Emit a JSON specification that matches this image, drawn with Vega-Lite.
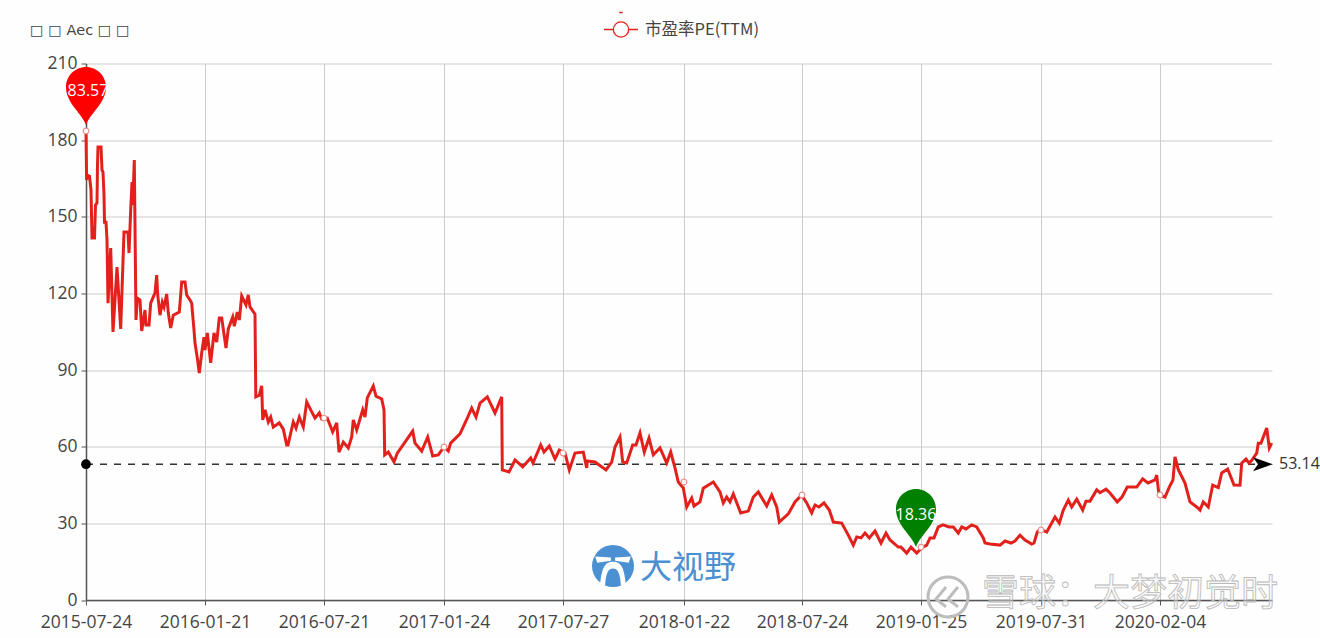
{
  "$schema": "https://vega.github.io/schema/vega-lite/v6.json",
  "width": 1186,
  "height": 536.5,
  "autosize": "none",
  "padding": {"left": 86, "top": 63.5, "right": 48, "bottom": 38},
  "background": "#fefefe",
  "title": {"text": "□ □ Aec □ □", "anchor": "start", "frame": "group", "dx": -56, "dy": 38, "offset": 11, "font": "DejaVu Sans", "fontSize": 14.5, "fontWeight": "normal", "color": "#444444"},
  "config": {"view": {"stroke": null}},
  "datasets": {
    "pe": [
      {"s":0,"pe":183.57},{"s":0.6,"pe":164.4},{"s":1.5,"pe":166.3},{"s":3.5,"pe":165.9},{"s":5,"pe":160.5},{"s":6,"pe":141.7},{"s":8.5,"pe":141.7},{"s":9.5,"pe":154.6},{"s":11,"pe":155.4},{"s":11.5,"pe":170.3},{"s":12,"pe":177.3},{"s":15,"pe":177.3},{"s":16,"pe":168.3},{"s":17,"pe":167.5},{"s":18,"pe":158.5},{"s":18.5,"pe":147.9},{"s":20,"pe":147.9},{"s":21,"pe":140.9},{"s":22,"pe":116.2},{"s":24.7,"pe":137.8},{"s":27,"pe":104.9},{"s":31,"pe":130.3},{"s":34.7,"pe":106.1},{"s":38,"pe":144},{"s":42,"pe":144},{"s":43,"pe":135.8},{"s":44.7,"pe":152.6},{"s":46,"pe":163.6},{"s":46.7,"pe":154.6},{"s":48.3,"pe":172.2},{"s":49,"pe":146.8},{"s":50,"pe":109.6},{"s":51.3,"pe":118.2},{"s":54,"pe":117.4},{"s":55.7,"pe":105.3},{"s":59,"pe":113.5},{"s":60,"pe":107.6},{"s":63,"pe":107.6},{"s":64.7,"pe":116.2},{"s":69,"pe":120.2},{"s":70.7,"pe":127.2},{"s":71.7,"pe":119.4},{"s":74,"pe":111.5},{"s":76.3,"pe":116.6},{"s":78,"pe":114.7},{"s":80.7,"pe":119.8},{"s":82.3,"pe":112.3},{"s":84.7,"pe":106.5},{"s":87.3,"pe":111.5},{"s":93.3,"pe":112.7},{"s":95.7,"pe":124.5},{"s":99,"pe":124.5},{"s":100.7,"pe":119.4},{"s":104,"pe":117.4},{"s":105.7,"pe":116.2},{"s":106.7,"pe":111.5},{"s":108,"pe":105.7},{"s":109,"pe":100.6},{"s":111.3,"pe":94.7},{"s":113.3,"pe":88.8},{"s":115.7,"pe":96.7},{"s":118,"pe":102.9},{"s":119,"pe":97.8},{"s":121.3,"pe":104.5},{"s":124.7,"pe":92.8},{"s":128,"pe":104.5},{"s":130.7,"pe":101},{"s":133.3,"pe":110.4},{"s":135.7,"pe":110.4},{"s":140,"pe":98.6},{"s":142.3,"pe":106.1},{"s":146.7,"pe":110.8},{"s":148.3,"pe":107.2},{"s":151.3,"pe":112.7},{"s":153.3,"pe":109.6},{"s":155.7,"pe":119},{"s":160,"pe":115.5},{"s":162.3,"pe":119.4},{"s":164,"pe":114.7},{"s":169,"pe":111.9},{"s":169.8,"pe":79.5},{"s":173.3,"pe":80.2},{"s":175.7,"pe":83.8},{"s":176.7,"pe":70.5},{"s":179,"pe":74.4},{"s":182.3,"pe":69.7},{"s":184.7,"pe":71.6},{"s":187.3,"pe":67.7},{"s":193.3,"pe":69.3},{"s":197.3,"pe":66.9},{"s":200.7,"pe":60.7},{"s":202,"pe":60.7},{"s":207.3,"pe":69.7},{"s":210,"pe":67.3},{"s":213.3,"pe":71.6},{"s":217.3,"pe":67.7},{"s":220.7,"pe":77.5},{"s":229,"pe":71.2},{"s":233.3,"pe":73.2},{"s":235.7,"pe":70.8},{"s":241.3,"pe":71.2},{"s":246.7,"pe":65.8},{"s":250.7,"pe":69.3},{"s":253,"pe":57.9},{"s":257.3,"pe":61.8},{"s":262.3,"pe":59.5},{"s":265.7,"pe":63.8},{"s":267.3,"pe":70.5},{"s":270.7,"pe":66.5},{"s":276.7,"pe":74.4},{"s":279,"pe":71.6},{"s":281.3,"pe":79.1},{"s":287.3,"pe":83.8},{"s":290,"pe":79.8},{"s":295.7,"pe":78.7},{"s":298,"pe":74.4},{"s":298.7,"pe":56.8},{"s":302.3,"pe":57.9},{"s":308,"pe":54},{"s":311.3,"pe":57.5},{"s":319,"pe":61.8},{"s":326.7,"pe":66.1},{"s":329,"pe":61.4},{"s":335.7,"pe":58.3},{"s":341.7,"pe":63.8},{"s":346.7,"pe":56.4},{"s":352.3,"pe":56.8},{"s":358,"pe":59.9},{"s":362.3,"pe":58.3},{"s":364.7,"pe":61.4},{"s":374,"pe":65},{"s":381.3,"pe":71.2},{"s":385.7,"pe":75.1},{"s":390,"pe":71.6},{"s":394,"pe":77.1},{"s":401.3,"pe":79.5},{"s":409,"pe":73.2},{"s":415.7,"pe":79.5},{"s":416.3,"pe":50.9},{"s":423,"pe":50.1},{"s":429,"pe":54.8},{"s":436.7,"pe":52.1},{"s":444.7,"pe":55.6},{"s":447,"pe":53.6},{"s":454.7,"pe":60.7},{"s":458,"pe":57.9},{"s":463.3,"pe":60.3},{"s":469,"pe":55.2},{"s":473.3,"pe":58.7},{"s":479,"pe":57.5},{"s":483.3,"pe":50.9},{"s":489,"pe":57.5},{"s":497.3,"pe":57.9},{"s":500.7,"pe":51.7},{"s":501.3,"pe":54.4},{"s":509,"pe":54},{"s":520,"pe":50.9},{"s":525.7,"pe":54},{"s":529,"pe":59.9},{"s":534,"pe":63.8},{"s":536.7,"pe":54},{"s":540.7,"pe":53.6},{"s":546.7,"pe":60.7},{"s":550,"pe":60.7},{"s":554,"pe":65.4},{"s":558.3,"pe":57.9},{"s":563,"pe":63.4},{"s":567.3,"pe":56.8},{"s":574,"pe":59.5},{"s":580.7,"pe":53.6},{"s":584.7,"pe":57.9},{"s":589,"pe":51.7},{"s":592.3,"pe":46.2},{"s":597.3,"pe":43.8},{"s":600.7,"pe":36.4},{"s":605.7,"pe":39.9},{"s":608,"pe":36.8},{"s":614,"pe":38.4},{"s":617.3,"pe":43.8},{"s":627.3,"pe":46.2},{"s":634,"pe":42.3},{"s":637.3,"pe":38},{"s":640.7,"pe":40.3},{"s":644,"pe":38.4},{"s":647.3,"pe":41.5},{"s":654.7,"pe":34.1},{"s":662.3,"pe":34.8},{"s":667.3,"pe":40.3},{"s":672.3,"pe":42.3},{"s":680.7,"pe":36.8},{"s":685.7,"pe":41.1},{"s":690.7,"pe":36.4},{"s":693.3,"pe":30.5},{"s":702.3,"pe":33.7},{"s":709,"pe":38.4},{"s":715.7,"pe":41.1},{"s":720.7,"pe":38},{"s":725.7,"pe":34.1},{"s":729,"pe":37.2},{"s":733,"pe":36.4},{"s":738,"pe":38},{"s":743.3,"pe":35.2},{"s":747.3,"pe":30.5},{"s":755.7,"pe":30.1},{"s":762.3,"pe":25.4},{"s":767.3,"pe":21.5},{"s":770.7,"pe":24.7},{"s":775,"pe":24.3},{"s":779,"pe":26.2},{"s":783.3,"pe":24.3},{"s":789,"pe":27},{"s":795,"pe":22.3},{"s":800,"pe":26.2},{"s":804,"pe":23.5},{"s":812.3,"pe":20.7},{"s":815,"pe":20.7},{"s":820.7,"pe":18.36},{"s":825,"pe":20.7},{"s":830.7,"pe":18.4},{"s":835.7,"pe":20.4},{"s":840.7,"pe":21.5},{"s":844,"pe":24.3},{"s":848,"pe":24.3},{"s":852.3,"pe":28.6},{"s":857,"pe":29.4},{"s":863,"pe":28.6},{"s":867.3,"pe":28.6},{"s":872.3,"pe":26.2},{"s":875.7,"pe":28.6},{"s":880,"pe":27.8},{"s":885.7,"pe":29.4},{"s":890.7,"pe":28.6},{"s":897.3,"pe":24.3},{"s":899,"pe":22.3},{"s":904,"pe":21.9},{"s":914,"pe":21.5},{"s":919,"pe":23.1},{"s":925,"pe":22.3},{"s":929,"pe":23.1},{"s":934,"pe":25.4},{"s":939,"pe":23.5},{"s":945.7,"pe":21.9},{"s":948,"pe":22.3},{"s":951.3,"pe":26.6},{"s":954,"pe":27.8},{"s":960.7,"pe":26.6},{"s":969,"pe":32.5},{"s":973.3,"pe":30.1},{"s":977.3,"pe":35.2},{"s":982.3,"pe":39.1},{"s":985.7,"pe":36.4},{"s":990.7,"pe":39.5},{"s":996.7,"pe":35.2},{"s":1000,"pe":38.7},{"s":1004,"pe":38.7},{"s":1010.7,"pe":43.1},{"s":1014,"pe":42},{"s":1020,"pe":43.4},{"s":1024,"pe":41.9},{"s":1031.3,"pe":38.4},{"s":1036,"pe":40.3},{"s":1041.3,"pe":44.2},{"s":1050.7,"pe":44.2},{"s":1056.7,"pe":47.4},{"s":1062,"pe":45.8},{"s":1069,"pe":47},{"s":1070.7,"pe":48.9},{"s":1073,"pe":41.1},{"s":1079,"pe":40.3},{"s":1083.3,"pe":44.2},{"s":1087,"pe":47},{"s":1089,"pe":56},{"s":1092.3,"pe":51},{"s":1099,"pe":45.8},{"s":1104,"pe":38.4},{"s":1110.7,"pe":36.4},{"s":1114,"pe":35.2},{"s":1117.3,"pe":38.4},{"s":1122.3,"pe":36.4},{"s":1126.7,"pe":45},{"s":1132.3,"pe":44},{"s":1135.7,"pe":49.7},{"s":1141.7,"pe":51.3},{"s":1148,"pe":45},{"s":1154,"pe":44.9},{"s":1155.7,"pe":53.6},{"s":1160,"pe":55.2},{"s":1163,"pe":53.6},{"s":1166,"pe":54.8},{"s":1170.7,"pe":57.5},{"s":1172.3,"pe":61.4},{"s":1175,"pe":61.4},{"s":1180.7,"pe":67.3},{"s":1183.3,"pe":59.5},{"s":1185.7,"pe":61.4}
    ],
    "ticks": [
      {"s":0,"pe":183.57},{"s":238,"pe":71.2},{"s":358,"pe":59.9},{"s":477,"pe":57.5},{"s":598,"pe":46.2},{"s":716,"pe":41.1},{"s":835,"pe":20.7},{"s":955,"pe":27.4},{"s":1074,"pe":41.1}
    ]
  },
  "encoding": {
    "x": {
      "field": "s",
      "type": "quantitative",
      "title": null,
      "scale": {"domain": [0, 1186], "nice": false, "zero": false},
      "axis": {
        "values": [0, 119, 238, 358, 477, 598, 716, 835, 955, 1074],
        "labelExpr": "{'0':'2015-07-24','119':'2016-01-21','238':'2016-07-21','358':'2017-01-24','477':'2017-07-27','598':'2018-01-22','716':'2018-07-24','835':'2019-01-25','955':'2019-07-31','1074':'2020-02-04'}[datum.value]",
        "labelFont": "Open Sans",
        "labelFontSize": 17.5,
        "labelColor": "#444444",
        "labelPadding": 8,
        "labelOverlap": false,
        "labelBound": false,
        "labelFlush": false,
        "domainColor": "#555555",
        "domainWidth": 1.5,
        "tickColor": "#555555",
        "tickSize": 5,
        "gridColor": {"condition": {"test": "datum.value === 0", "value": "#555555"}, "value": "#cccccc"},
        "gridOpacity": 1,
        "zindex": 0
      }
    },
    "y": {
      "field": "pe",
      "type": "quantitative",
      "title": null,
      "scale": {"domain": [0, 210], "nice": false},
      "axis": {
        "values": [0, 30, 60, 90, 120, 150, 180, 210],
        "labelFont": "Open Sans",
        "labelFontSize": 17.5,
        "labelColor": "#444444",
        "labelPadding": 4,
        "domainColor": "#555555",
        "domainWidth": 1.5,
        "tickColor": "#555555",
        "tickSize": 5,
        "gridColor": "#cccccc",
        "gridOpacity": 1,
        "zindex": 0
      }
    }
  },
  "layer": [
    {
      "data": {"values": [{"s": 527, "pe": 13.3}]},
      "mark": {"type": "point", "filled": true, "opacity": 1, "size": 1764, "shape": "circle", "color": "#4a90d2"}
    },
    {
      "data": {"values": [{"s": 527, "pe": 13.3}]},
      "mark": {"type": "point", "filled": true, "opacity": 1, "size": 1764, "color": "#ffffff", "shape": "M-0.62,1 C-0.55,0.1 -0.4,-0.2 0,-0.2 C0.4,-0.2 0.55,0.1 0.62,1 L0.38,1 C0.35,0.4 0.25,0.12 0,0.12 C-0.25,0.12 -0.35,0.4 -0.38,1 Z M-0.85,-0.45 L-0.1,-0.4 L-0.1,-0.25 L-0.75,-0.15 Z M0.85,-0.45 L0.1,-0.4 L0.1,-0.25 L0.75,-0.15 Z"}
    },
    {
      "data": {"values": [{"s": 602, "pe": 12.5, "label": "大视野"}]},
      "mark": {"type": "text", "font": "Noto Sans CJK SC", "fontSize": 32, "color": "#4a90d2", "align": "center", "baseline": "middle"},
      "encoding": {"text": {"field": "label"}}
    },
    {
      "data": {"values": [{"s": 862, "pe": 1.2}]},
      "mark": {"type": "point", "filled": false, "opacity": 1, "size": 1600, "stroke": "#bdbdbd", "strokeWidth": 3, "shape": "M0.6,-0.8 A1,1 0 1 1 -0.6,-0.8 A1,1 0 0 1 0.6,-0.8 Z M-0.1,-0.5 L-0.6,0.1 L-0.1,0.5 M0.5,-0.5 L0,0.1 L0.5,0.5"}
    },
    {
      "data": {"values": [{"s": 1044, "pe": 1.9, "label": "雪球：大梦初觉时"}]},
      "mark": {"type": "text", "font": "Noto Sans CJK SC", "fontSize": 37, "fill": "#f3f3f3", "fillOpacity": 0.4, "stroke": "#b8b8b8", "strokeWidth": 0.8, "align": "center", "baseline": "middle"},
      "encoding": {"text": {"field": "label"}}
    },
    {
      "data": {"values": [{"s": 0, "s2": 1186, "pe": 53.14}]},
      "mark": {"type": "rule", "color": "#333333", "strokeWidth": 1.4, "strokeDash": [7, 7]},
      "encoding": {"x2": {"field": "s2"}}
    },
    {
      "data": {"name": "pe"},
      "mark": {"type": "line", "strokeWidth": 3, "interpolate": "linear"},
      "encoding": {
        "color": {
          "datum": "市盈率PE(TTM)",
          "scale": {"range": ["#e3211c"]},
          "legend": {
            "title": null,
            "orient": "none",
            "legendX": 517,
            "legendY": -52,
            "symbolType": "M-1,0 H-0.45 M0.45,0 H1 M0.45,0 A0.45,0.45 0 1 1 -0.45,0 A0.45,0.45 0 1 1 0.45,0 M-0.1,-1 H0.1",
            "symbolSize": 1156,
            "symbolStrokeWidth": 1.3,
            "labelFont": "Noto Sans CJK SC",
            "labelFontSize": 16.5,
            "labelColor": "#444444",
            "labelOffset": 6,
            "encode": {"symbols": {"update": {"stroke": {"value": "#e8685f"}}}}
          }
        }
      }
    },
    {
      "data": {"name": "ticks"},
      "mark": {"type": "point", "filled": true, "opacity": 1, "size": 32, "fill": "#ffffff", "stroke": "#e8938c", "strokeWidth": 1.2}
    },
    {
      "data": {"values": [{"s": 0, "pe": 183.57, "label": "83.57"}]},
      "mark": {"type": "point", "filled": true, "opacity": 1, "size": 1600, "color": "#ff0000", "shape": "M0,-0.3 C-0.25,-0.95 -1,-1.4 -1,-2.2 A1,1 0 1 1 1,-2.2 C1,-1.4 0.25,-0.95 0,-0.3 Z"}
    },
    {
      "data": {"values": [{"s": 0, "pe": 183.57, "label": "83.57"}]},
      "mark": {"type": "text", "font": "Open Sans", "fontSize": 16, "color": "#ffffff", "dy": -40, "dx": 2},
      "encoding": {"text": {"field": "label"}}
    },
    {
      "data": {"values": [{"s": 830, "pe": 18.36, "label": "18.36"}]},
      "mark": {"type": "point", "filled": true, "opacity": 1, "size": 1600, "color": "#008000", "shape": "M0,-0.3 C-0.25,-0.95 -1,-1.4 -1,-2.2 A1,1 0 1 1 1,-2.2 C1,-1.4 0.25,-0.95 0,-0.3 Z"}
    },
    {
      "data": {"values": [{"s": 830, "pe": 18.36, "label": "18.36"}]},
      "mark": {"type": "text", "font": "Open Sans", "fontSize": 16, "color": "#ffffff", "dy": -38},
      "encoding": {"text": {"field": "label"}}
    },
    {
      "data": {"values": [{"s": 0, "pe": 53.14}]},
      "mark": {"type": "point", "filled": true, "opacity": 1, "size": 95, "color": "#000000"}
    },
    {
      "data": {"values": [{"s": 1186, "pe": 53.14, "label": "53.14"}]},
      "mark": {"type": "point", "filled": true, "opacity": 1, "size": 400, "color": "#000000", "shape": "M0.1,0 L-1.9,-0.7 L-1.4,0 L-1.9,0.7 Z"}
    },
    {
      "data": {"values": [{"s": 1186, "pe": 53.14, "label": "53.14"}]},
      "mark": {"type": "text", "font": "Open Sans", "fontSize": 16, "color": "#333333", "align": "left", "dx": 7},
      "encoding": {"text": {"field": "label"}}
    }
  ]
}
